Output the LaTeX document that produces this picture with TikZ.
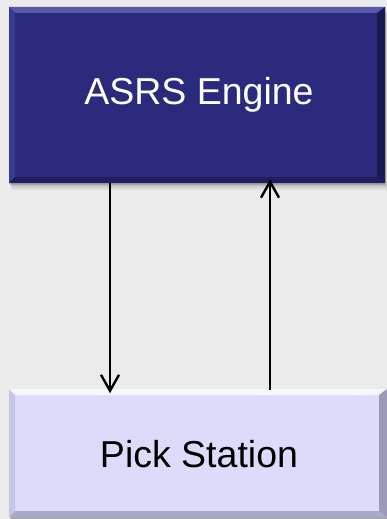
\documentclass[tikz,border=0pt]{standalone}
\usepackage{fontspec}
\setmainfont{Liberation Sans}
\definecolor{pagebg}{HTML}{EBEBEB}
\definecolor{engfill}{HTML}{2B2A7D}
\definecolor{engtop}{HTML}{5658AA}
\definecolor{engleft}{HTML}{3A3B92}
\definecolor{engright}{HTML}{1C1B58}
\definecolor{engbot}{HTML}{1F1E5E}
\definecolor{stfill}{HTML}{DCDCFA}
\definecolor{sttop}{HTML}{F6F6FF}
\definecolor{stleft}{HTML}{C6C6EA}
\definecolor{stright}{HTML}{9A9AB8}
\definecolor{stbot}{HTML}{A8A8C8}
\tikzset{
  boxlabel/.style={rectangle, inner sep=0pt, font=\fontsize{37.5}{42}\selectfont},
  flow/.style={line width=2.4pt, line join=miter},
}
% bevelled box: #1 = x0, #2 = y0, #3 = x1, #4 = y1 (y grows downward)
\newcommand{\bevelbox}[9]{%
  \foreach \s/\o in {7/0.05,5/0.07,3/0.09,1.5/0.1}{
    \fill[black,opacity=\o] (#1+\s*0.4,#2+\s) rectangle (#3+\s*0.4,#4+\s);
  }
  \fill[#5] (#1,#2) rectangle (#3,#4);
  \fill[#6] (#1,#2) -- (#3,#2) -- (#3-8,#2+6) -- (#1+6,#2+6) -- cycle;
  \fill[#7] (#1,#2) -- (#1+6,#2+6) -- (#1+6,#4-6) -- (#1,#4) -- cycle;
  \fill[#8] (#3,#2) -- (#3,#4) -- (#3-8,#4-6) -- (#3-8,#2+6) -- cycle;
  \fill[#9] (#1,#4) -- (#3,#4) -- (#3-8,#4-6) -- (#1+6,#4-6) -- cycle;
}
\begin{document}
\begin{tikzpicture}[x=1pt,y=-1pt]
  \fill[pagebg] (0,0) rectangle (387,519);
  \useasboundingbox (0,0) rectangle (387,519);

  \bevelbox{9}{7}{385}{183}{engfill}{engtop}{engleft}{engright}{engbot}
  \bevelbox{9}{389}{387}{517}{stfill}{sttop}{stleft}{stright}{stbot}

  \node[boxlabel, text=white, minimum width=376pt, minimum height=176pt]
    (engine) at (199,95) {ASRS Engine};
  \node[boxlabel, text=black, minimum width=378pt, minimum height=128pt]
    (station) at (199,454) {Pick Station};

  \coordinate (downx) at (110,0);
  \coordinate (upx) at (270,0);
  \coordinate (downend) at ([yshift=-1pt]station.north -| downx);
  \coordinate (upend) at ([yshift=1.5pt]engine.south -| upx);

  % engine to station
  \draw[flow] (engine.south -| downx) -- (downend);
  \draw[flow] ([shift={(-9,-16)}]downend) -- (downend) -- ([shift={(9,-16)}]downend);
  % station to engine
  \draw[flow] (station.north -| upx) -- (upend);
  \draw[flow] ([shift={(-9,16)}]upend) -- (upend) -- ([shift={(9,16)}]upend);
\end{tikzpicture}
\end{document}
